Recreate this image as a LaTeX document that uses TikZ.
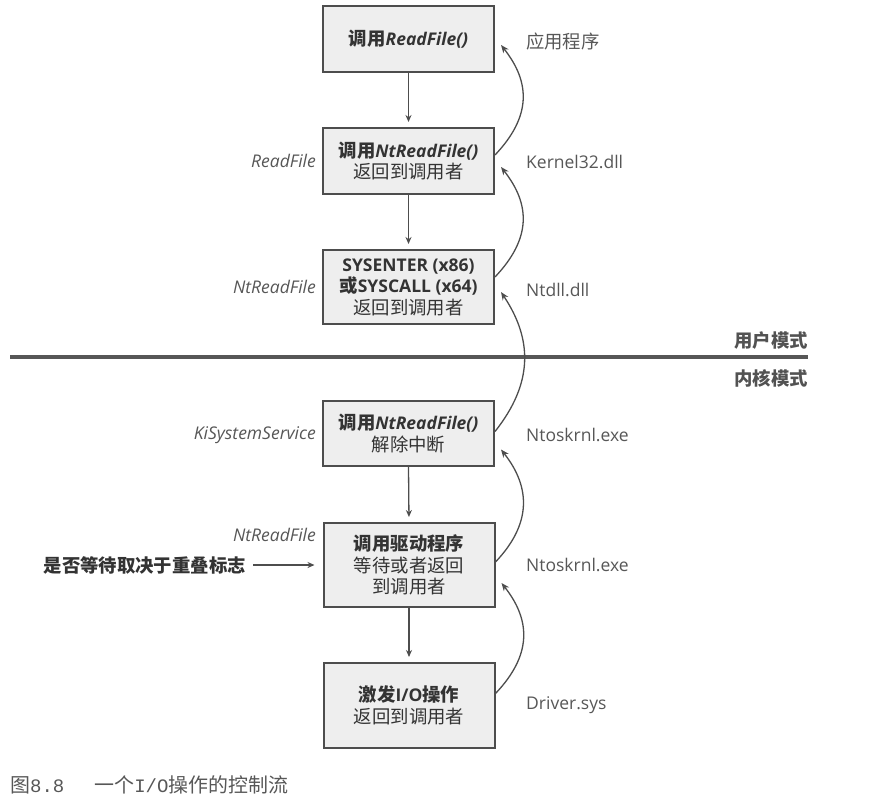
\documentclass[tikz,border=0pt]{standalone}
\usepackage{fontspec}
\setmainfont{Open Sans}
\newfontfamily\cjk{Noto Sans CJK SC}[Scale=1.05]
\newfontfamily\capmono{Liberation Mono}
\usetikzlibrary{arrows.meta,calc}
\newcommand{\zh}[1]{{\cjk #1}}
\definecolor{ink}{HTML}{333333}
\definecolor{soft}{HTML}{575757}
\definecolor{boxfill}{HTML}{EEEEEE}
\definecolor{frame}{HTML}{4D4D4D}

\begin{document}
\begin{tikzpicture}[x=1pt,y=-1pt,
  stepbox/.style={draw=frame, line width=2pt, fill=boxfill, minimum width=171pt,
    inner sep=0pt, align=center, text=ink, font=\fontsize{17.5}{21.5}\selectfont},
  dll/.style={anchor=west, text=soft, font=\fontsize{17.5}{21}\selectfont, inner sep=0pt},
  fn/.style={anchor=east, text=soft, font=\fontsize{17.5}{21}\selectfont\itshape, inner sep=0pt},
  mode/.style={anchor=east, text=ink!85, font=\fontsize{17.5}{21}\selectfont\bfseries\cjk, inner sep=0pt},
  flow/.style={draw=frame, line width=1.3pt, -{Stealth[length=7pt,width=6pt]}},
  back/.style={draw=frame, line width=1.3pt, -{Stealth[length=8pt,width=6.5pt]}}]

\useasboundingbox (0,0) rectangle (872,803);

% call chain boxes
\node[stepbox, minimum height=66pt] (b1) at (408.5,39)
  {\textbf{\zh{调用}\textit{ReadFile()}}};
\node[stepbox, minimum height=66pt] (b2) at (408.5,161)
  {\textbf{\zh{调用}\textit{NtReadFile()}}\\\zh{返回到调用者}};
\node[stepbox, minimum height=74pt] (b3) at (408.5,287)
  {\textbf{SYSENTER (x86)}\\\textbf{\zh{或}SYSCALL (x64)}\\\zh{返回到调用者}};
\node[stepbox, minimum height=65pt] (b4) at (408.5,433.5)
  {\textbf{\zh{调用}\textit{NtReadFile()}}\\\zh{解除中断}};
\node[stepbox, minimum height=84pt] (b5) at (409,565)
  {\textbf{\zh{调用驱动程序}}\\\zh{等待或者返回}\\\zh{到调用者}};
\node[stepbox, minimum height=85pt] (b6) at (409,705.5)
  {\textbf{\zh{激发}I/O\zh{操作}}\\\zh{返回到调用者}};

% module names on the right
\node[dll] (m1) at (526,42) {\zh{应用程序}};
\node[dll] (m2) at (526,162) {Kernel32.dll};
\node[dll] (m3) at (526,290) {Ntdll.dll};
\node[dll] (m4) at (526,435) {Ntoskrnl.exe};
\node[dll] (m5) at (526,565) {Ntoskrnl.exe};
\node[dll] (m6) at (526,705) {Driver.sys};

% calling functions on the left
\node[fn] (f2) at (316,161) {ReadFile};
\node[fn] (f3) at (316,287) {NtReadFile};
\node[fn] (f4) at (316,435) {KiSystemService};
\node[fn] (f5) at (316,535) {NtReadFile};

% overlapped flag note
\node[anchor=east, text=ink, inner sep=0pt, font=\fontsize{17.5}{21}\selectfont\bfseries\cjk]
  (flag) at (246,565) {是否等待取决于重叠标志};
\draw[flow, shorten <=7pt, shorten >=8pt] (flag.east) -- (b5.west);

% user / kernel boundary
\coordinate (ml) at (10,357);
\coordinate (mr) at (808,357);
\draw[soft, line width=4pt] (ml) -- (mr);
\node[mode] (um) at (808,341) {用户模式};
\node[mode] (km) at (808,378) {内核模式};

% downward calls
\draw[flow, shorten >=5pt] (b1.south) -- (b2.north);
\draw[flow, shorten >=5pt] (b2.south) -- (b3.north);
\draw[flow, shorten >=5pt] (b4.south) -- (b5.north);
\draw[flow, shorten >=5pt] (b5.south) -- (b6.north);

% returns to the caller
\draw[back] ([yshift=6pt]b2.east) .. controls +(36,-38) and +(30,38) .. ([xshift=6pt,yshift=-6pt]b1.east);
\draw[back] ([yshift=10pt]b3.east) .. controls +(36,-38) and +(30,38) .. ([xshift=6pt,yshift=-6pt]b2.east);
\draw[back] ([yshift=2pt]b4.east) .. controls +(38,-48) and +(32,48) .. ([xshift=6pt,yshift=-5pt]b3.east);
\draw[back] ([yshift=3pt]b5.east) .. controls +(36,-38) and +(30,38) .. ([xshift=6pt,yshift=-16pt]b4.east);
\draw[back] ([yshift=12pt]b6.east) .. controls +(36,-38) and +(30,38) .. ([xshift=6pt,yshift=-18pt]b5.east);

% caption
\node[anchor=west, text=soft, inner sep=0pt, font=\fontsize{19}{22}\selectfont\cjk]
  (cap) at (10,785) {图{\capmono 8.8}\hspace{30pt}一个{\capmono I/O}操作的控制流};
\end{tikzpicture}
\end{document}
